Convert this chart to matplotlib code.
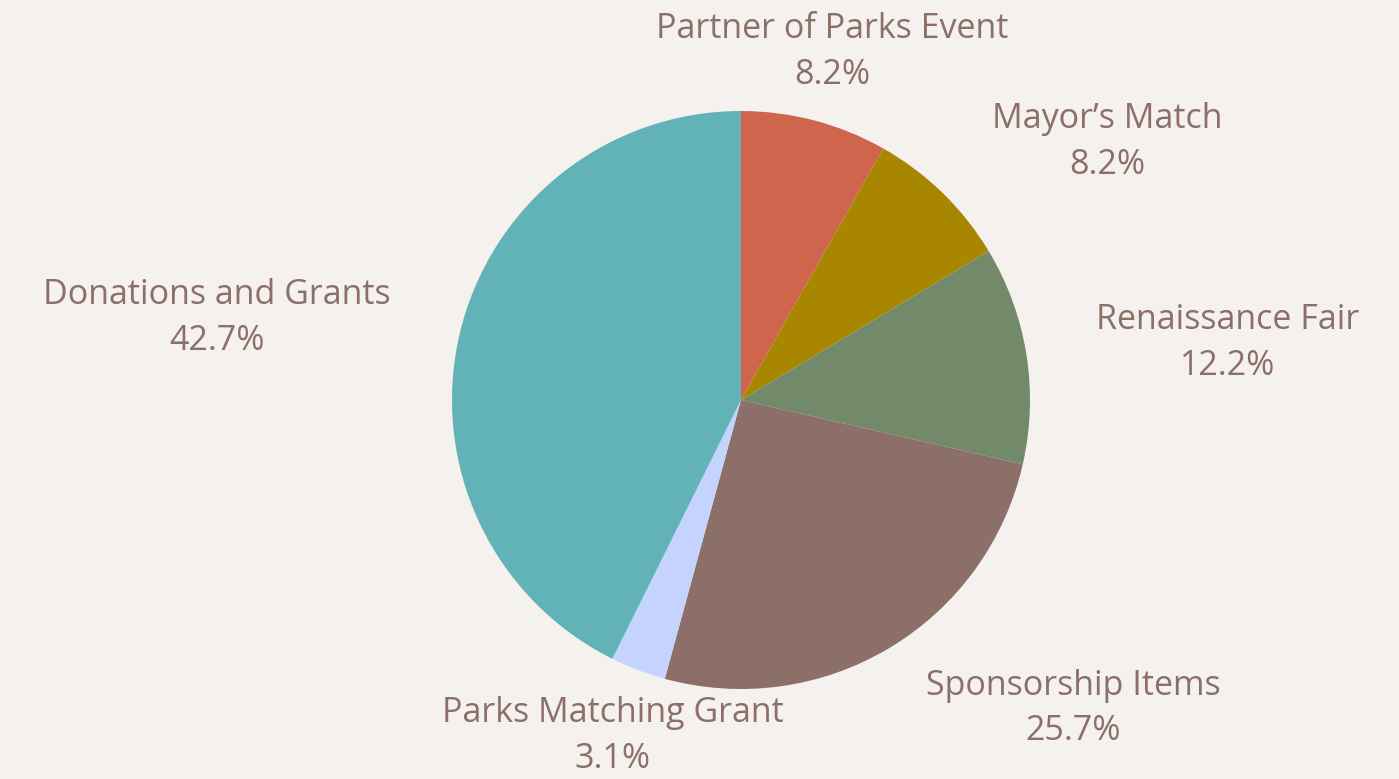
import numpy as np
import matplotlib.pyplot as plt

labels = ['Partner of Parks Event', 'Mayor\u2019s Match', 'Renaissance Fair',
          'Sponsorship Items', 'Parks Matching Grant', 'Donations and Grants']
shares = [8.2, 8.2, 12.2, 25.7, 3.1, 42.7]
colors = ['#D0654E', '#A88600', '#728A69', '#8B6F68', '#C5D3FF', '#62B3B7']

bg = '#F5F1EE'
txt = '#8B6F68'

fig = plt.figure(figsize=(13.99, 7.79), dpi=100, facecolor=bg)
W, H = 1399, 779
cx, cy, r = 741, 400, 289
ax = fig.add_axes([(cx - r) / W, (H - cy - r) / H, 2 * r / W, 2 * r / H])
ax.set_facecolor(bg)

wedges, _ = ax.pie(shares, colors=colors, startangle=90, counterclock=False,
                   radius=1, wedgeprops=dict(linewidth=0))
ax.set_xlim(-1, 1)
ax.set_ylim(-1, 1)
ax.set_aspect('equal')
ax.axis('off')

dist = 1.245
for w, lab, s in zip(wedges, labels, shares):
    ang = np.deg2rad((w.theta1 + w.theta2) / 2)
    x, y = dist * np.cos(ang), dist * np.sin(ang)
    c = np.cos(ang)
    ha = 'left' if c > 0.4 else ('right' if c < -0.4 else 'center')
    ax.text(x, y, f'{lab}\n{s:.1f}%', ha=ha, va='center', multialignment='center',
            fontsize=24.5, color=txt, family='Open Sans', fontweight='medium',
            linespacing=1.45, clip_on=False)

fig.savefig('out.png', dpi=100, facecolor=bg)
